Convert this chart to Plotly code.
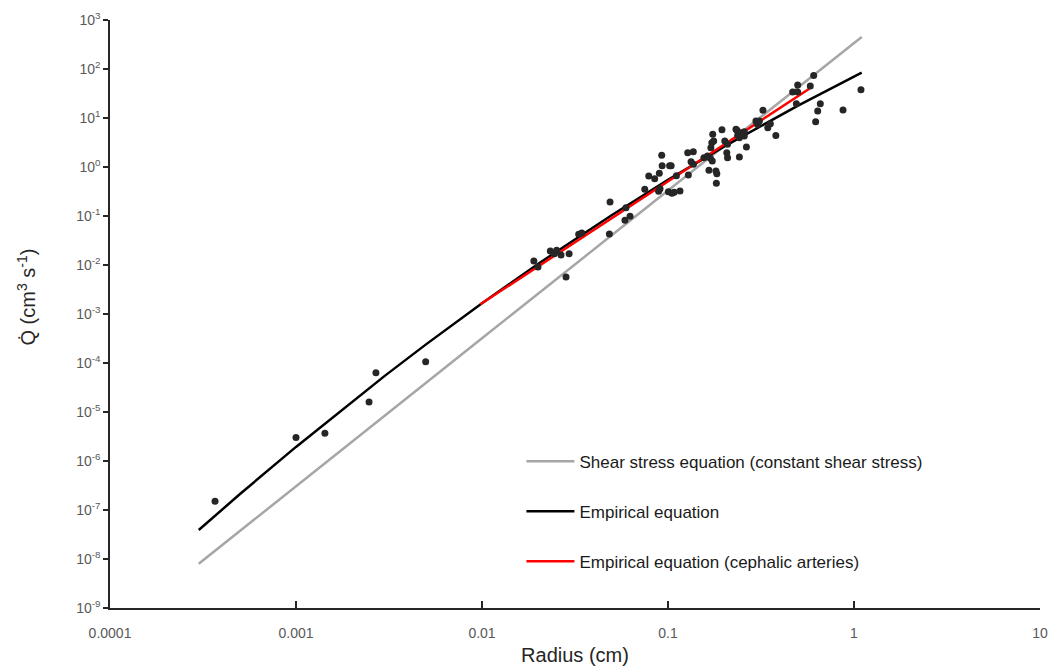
import plotly.graph_objects as go

# ---- Data ----
# Shear stress equation (constant shear stress)
shear_radius = [0.0003, 0.001, 0.01, 0.1, 1.1]
shear_q = [8.0e-9, 3.0e-7, 3.2e-4, 0.33, 450]

# Empirical equation
emp_radius = [0.0003, 0.0005, 0.001, 0.002, 0.003, 0.005, 0.01, 0.02, 0.05, 0.1, 0.2, 0.5, 1.0, 1.1]
emp_q = [3.9e-8, 2.12e-7, 1.94e-6, 1.63e-5, 5.46e-5, 2.40e-4, 1.66e-3, 1.05e-2, 0.105, 0.547, 2.61, 17.9, 69.8, 84]

# Empirical equation (cephalic arteries)
ceph_radius = [0.0098, 0.03, 0.1, 0.3, 0.575]
ceph_q = [1.58e-3, 0.0256, 0.511, 7.83, 39.6]

# Observed data points
obs_radius = [0.000367, 0.001, 0.00143, 0.00247, 0.00269, 0.00498,
              0.019, 0.020, 0.0233, 0.0245, 0.0252, 0.0266, 0.0283, 0.0294,
              0.0331, 0.0344, 0.0484, 0.0488, 0.0587, 0.0594, 0.0625,
              0.075, 0.0788, 0.0848, 0.089, 0.0898, 0.0906, 0.0925, 0.093,
              0.1005, 0.102, 0.104, 0.105, 0.108, 0.111, 0.116,
              0.1276, 0.1286, 0.133, 0.1368, 0.137, 0.156, 0.163, 0.166,
              0.169, 0.170, 0.172, 0.173, 0.174, 0.176, 0.181, 0.182, 0.183,
              0.195, 0.202, 0.207, 0.209, 0.209, 0.232, 0.235, 0.237, 0.242, 0.242,
              0.247, 0.257, 0.257, 0.264, 0.297, 0.303, 0.31, 0.324, 0.344,
              0.355, 0.38, 0.468, 0.49, 0.498, 0.498, 0.582, 0.607, 0.622,
              0.638, 0.659, 0.873, 1.09]
obs_q = [1.5e-7, 3.0e-6, 3.7e-6, 1.6e-5, 6.3e-5, 1.06e-4,
         0.0121, 0.0091, 0.0193, 0.017, 0.020, 0.016, 0.0057, 0.017,
         0.0424, 0.045, 0.043, 0.193, 0.082, 0.148, 0.099,
         0.35, 0.655, 0.578, 0.32, 0.743, 0.36, 1.73, 1.06,
         0.313, 1.06, 1.06, 0.29, 0.305, 0.66, 0.324,
         1.96, 0.687, 1.28, 2.05, 1.14, 1.55, 1.68, 0.857,
         1.5, 2.48, 3.13, 1.33, 4.65, 3.39, 0.83, 0.465, 0.73,
         5.78, 3.4, 1.96, 1.55, 2.9, 5.9, 5.6, 4.44, 3.96, 1.6,
         5.0, 5.25, 4.3, 2.56, 8.7, 7.4, 8.7, 14.4, 6.3,
         7.65, 4.4, 34, 19.6, 47, 34, 45, 74, 8.4,
         13.9, 19.6, 14.6, 37.8]

x_tickvals = [0.0001, 0.001, 0.01, 0.1, 1, 10]
x_ticktext = ["0.0001", "0.001", "0.01", "0.1", "1", "10"]
y_exponents = [-9, -8, -7, -6, -5, -4, -3, -2, -1, 0, 1, 2, 3]

legend_names = ["Shear stress equation (constant shear stress)",
                "Empirical equation",
                "Empirical equation (cephalic arteries)"]

fig = go.Figure()
fig.add_trace(go.Scatter(x=shear_radius, y=shear_q, mode="lines", name=legend_names[0],
                         legendgroup="g1", line=dict(color="#a6a6a6", width=2.5)))
fig.add_trace(go.Scatter(x=emp_radius, y=emp_q, mode="lines", name=legend_names[1],
                         legendgroup="g2", line=dict(color="#000000", width=2.5)))
fig.add_trace(go.Scatter(x=ceph_radius, y=ceph_q, mode="lines", name=legend_names[2],
                         legendgroup="g3", line=dict(color="#ff0000", width=2.5)))
fig.add_trace(go.Scatter(x=obs_radius, y=obs_q, mode="markers", showlegend=False,
                         marker=dict(color="#262626", size=7)))

tick_font = dict(family="Liberation Sans, Arial, sans-serif", size=14, color="#595959")

fig.update_layout(
    width=1049, height=671,
    margin=dict(l=109.5, r=9, t=20, b=63, autoexpand=False),
    paper_bgcolor="white", plot_bgcolor="white",
    font=dict(family="Liberation Sans, Arial, sans-serif"),
    showlegend=True,
    legend=dict(x=0.4424, y=0.2796, xanchor="left", yanchor="top",
                font=dict(size=17, color="#1a1a1a"), tracegroupgap=25,
                itemwidth=48, bgcolor="rgba(0,0,0,0)"),
    xaxis=dict(type="log", range=[-4, 1], tickvals=x_tickvals, ticktext=x_ticktext,
               showgrid=False, zeroline=False, showline=True, linecolor="#262626",
               linewidth=1.5, ticks="inside", ticklen=7, tickwidth=1.5, tickcolor="#262626",
               tickfont=tick_font, ticklabelstandoff=11, automargin=False,
               title=dict(text="Radius (cm)", font=dict(size=20, color="#262626"), standoff=8)),
    yaxis=dict(type="log", range=[-9, 3],
               tickvals=[10.0 ** e for e in y_exponents],
               ticktext=["10<sup>%d</sup>" % e for e in y_exponents],
               showgrid=False, zeroline=False, showline=True, linecolor="#262626",
               linewidth=1.5, ticks="outside", ticklen=5, tickwidth=1.5, tickcolor="#262626",
               tickfont=tick_font, automargin=False),
    annotations=[dict(text="Q̇ (cm<sup>3</sup> s<sup>-1</sup>)", textangle=-90,
                      xref="paper", yref="paper", x=-0.0897, y=0.529,
                      xanchor="center", yanchor="middle", showarrow=False,
                      font=dict(size=20, color="#262626"))],
)

fig.write_html("out.html", config={"displayModeBar": False},
               post_script="document.body.style.margin='0px';")
